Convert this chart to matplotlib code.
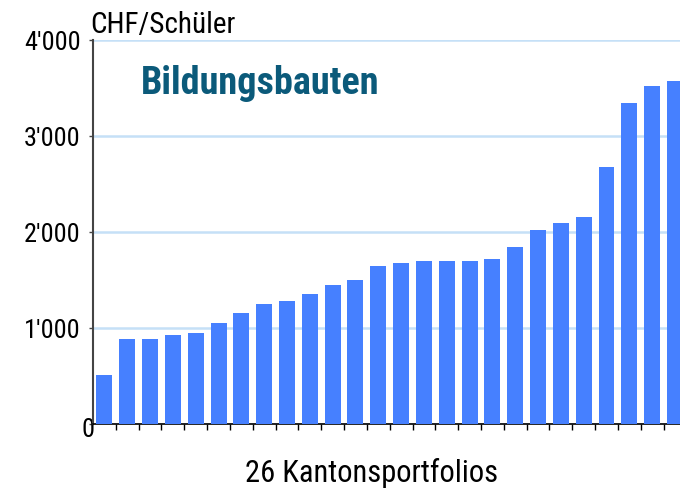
import matplotlib
matplotlib.use("Agg")
import matplotlib.pyplot as plt
from matplotlib.transforms import ScaledTranslation
from matplotlib.ticker import FuncFormatter
import numpy as np

plt.rcParams['font.family'] = ['Roboto Condensed', 'DejaVu Sans']

# Kosten Bildungsbauten je Kantonsportfolio, aufsteigend sortiert
werte = [515, 890, 890, 922, 943, 1057, 1161, 1245, 1286, 1349, 1453, 1505, 1651,
         1682, 1693, 1693, 1693, 1714, 1839, 2026, 2089, 2161, 2682, 3339, 3516, 3578]
y_ticks = [0, 1000, 2000, 3000, 4000]
titel = "Bildungsbauten"
y_titel = "CHF/Schüler"
x_titel = "26 Kantonsportfolios"

fig = plt.figure(figsize=(6.8, 4.89), dpi=100)
ax = fig.add_axes([93 / 680, 64 / 489, 1 - 93 / 680, 384 / 489])

x = np.arange(len(werte))
ax.bar(x, werte, width=0.7, color='#4680ff', zorder=3)

ax.set_ylim(0, 4000)
ax.set_xlim(-0.5, 25.22)
ax.set_yticks(y_ticks)
ax.yaxis.set_major_formatter(FuncFormatter(lambda v, p: f"{int(v):,}".replace(",", "'")))
ax.set_xticks(x[:-1] + 0.5)
ax.set_xticklabels([])
ax.tick_params(axis='x', length=4, width=1, color='black', direction='out')
ax.tick_params(axis='y', length=3, width=1, color='#444444', labelsize=19, pad=6)
ax.grid(axis='y', color='#c5e0f7', linewidth=1.8, zorder=0)
ax.set_axisbelow(True)

for s in ['top', 'right']:
    ax.spines[s].set_visible(False)
ax.spines['left'].set_color('#444444')
ax.spines['left'].set_linewidth(1.5)
ax.spines['bottom'].set_color('black')
ax.spines['bottom'].set_linewidth(1.2)

# die Null sitzt direkt an der Achse
fig.canvas.draw()
lab0 = ax.get_yticklabels()[0]
lab0.set_transform(lab0.get_transform() + ScaledTranslation(0.14, -0.03, fig.dpi_scale_trans))

fig.text(90 / 680, 1 - 33 / 489, y_titel, fontsize=21, va='baseline', ha='left')
fig.text(141 / 680, 1 - 94 / 489, titel, fontsize=27.5,
         fontweight='bold', color='#0b5a7a', va='baseline', ha='left')
fig.text(372 / 680, 1 - 482 / 489, x_titel, fontsize=22, va='baseline', ha='center')

fig.savefig("out.png", dpi=100)
